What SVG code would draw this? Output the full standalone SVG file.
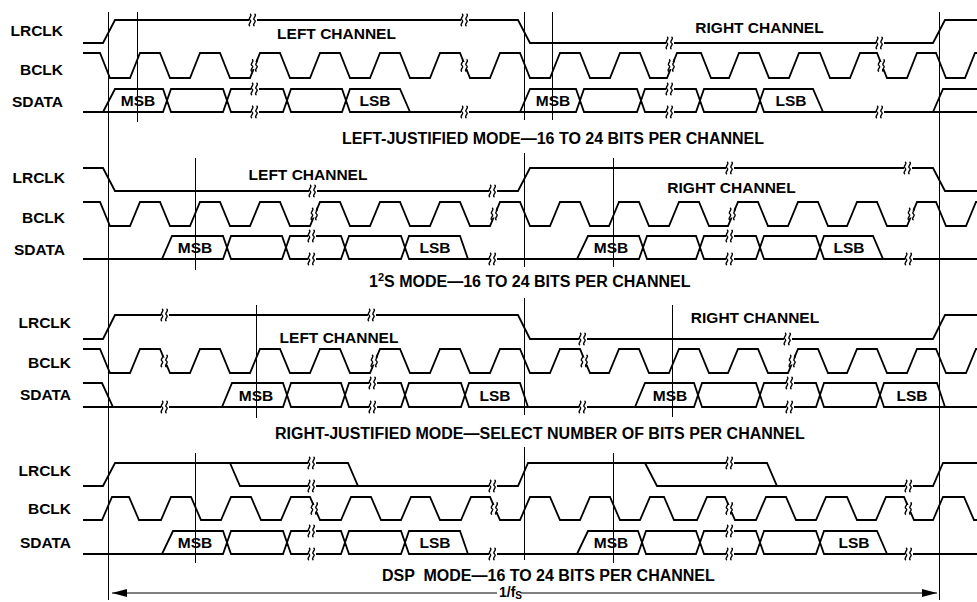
<svg xmlns="http://www.w3.org/2000/svg" xmlns:xlink="http://www.w3.org/1999/xlink" width="977" height="602" viewBox="0 0 977 602">
<style>
.w{fill:none;stroke:#000;stroke-width:1.8;stroke-linejoin:miter}
.v{fill:none;stroke:#000;stroke-width:1}
.t{font-family:"Liberation Sans",Arial,Helvetica,sans-serif;font-weight:bold;font-size:15.5px;fill:#000}
.tt{font-family:"Liberation Sans",Arial,Helvetica,sans-serif;font-weight:bold;font-size:16px;fill:#000}
.m{text-anchor:middle}
.e{text-anchor:end}
</style>
<defs>
<g id="bk"><rect x="-4" y="-3.5" width="8" height="7" fill="#fff"/><path d="M-3,-6 c3,1.5 -2.5,4.5 0,6 c2.5,1.5 -3,4.5 0,6 M1.5,-6 c3,1.5 -2.5,4.5 0,6 c2.5,1.5 -3,4.5 0,6" fill="none" stroke="#000" stroke-width="1.4"/></g>
<marker id="ah" viewBox="0 0 15 8" refX="15" refY="4" markerWidth="15" markerHeight="8" markerUnits="userSpaceOnUse" orient="auto-start-reverse"><path d="M0,0 L15,4 L0,8 z" fill="#000"/></marker>
</defs>
<rect width="977" height="602" fill="#fff"/>

<g id="guides">
<path class="v" d="M108.5,12 V600 M939.5,12 V600 M524.5,12 V120 M524.5,153 V267 M524.5,298 V415 M524.5,447 V560 M137.5,12 V122 M552.5,12 V120 M195.5,158 V270 M613.5,158 V267 M256.5,305 V418 M672.5,305 V417 M195.5,453 V563 M613.5,453 V563"/>
</g>

<g id="panel-left-justified">
<g id="p1-labels">
<text class="t e" x="63" y="35.5">LRCLK</text>
<text class="t e" x="63" y="75">BCLK</text>
<text class="t e" x="63" y="106.5">SDATA</text>
<text class="t m" x="336.5" y="39">LEFT CHANNEL</text>
<text class="t m" x="759.5" y="33">RIGHT CHANNEL</text>
</g>
<path id="p1-lrclk" class="w" d="M83,43 H103 L115,20 H518 L530,43 H933 L945,20 H977"/>
<path id="p1-bclk" class="w" d="M83,53 H100 L110,78 H130 L140,53 H160 L170,78 H190 L200,53 H220 L230,78 H250 L260,53 H280 L290,78 H310 L320,53 H340 L350,78 H370 L380,53 H400 L410,78 H430 L440,53 H460 L470,78 H490 L500,53 H520 L530,78 H550 L560,53 H580 L590,78 H610 L620,53 H640 L650,78 H667 L677,53 H701 L711,78 H729 L739,53 H759 L769,78 H789 L799,53 H820 L830,78 H850 L860,53 H877 L887,78 H907 L917,53 H936 L946,78 H965 L975,53 H977"/>
<path id="p1-sdata" class="w" d="M83,112 H103 M410,112 H520 M823,112 H977 M933,112 L943,89 H977
M103,112 L115,89 H163 L167,100.5 L163,112 Z
M167,100.5 L171,89 H223 L227,100.5 L223,112 H171 Z
M227,100.5 L231,89 H283 L287,100.5 L283,112 H231 Z
M287,100.5 L291,89 H342 L346,100.5 L342,112 H291 Z
M346,100.5 L350,89 H400 L410,112 H350 Z
M520,112 L530,89 H576 L580,100.5 L576,112 Z
M580,100.5 L584,89 H637 L641,100.5 L637,112 H584 Z
M641,100.5 L645,89 H696 L700,100.5 L696,112 H645 Z
M700,100.5 L704,89 H756 L760,100.5 L756,112 H704 Z
M760,100.5 L764,89 H813 L823,112 H764 Z"/>
<g id="p1-breaks">
<use href="#bk" x="253" y="20"/><use href="#bk" x="465" y="20"/><use href="#bk" x="670" y="43"/><use href="#bk" x="880" y="43"/>
<use href="#bk" x="255" y="65.5"/><use href="#bk" x="465" y="65.5"/><use href="#bk" x="672" y="65.5"/><use href="#bk" x="882" y="65.5"/>
<use href="#bk" x="255" y="89"/><use href="#bk" x="255" y="112"/><use href="#bk" x="465" y="112"/><use href="#bk" x="670" y="89"/><use href="#bk" x="670" y="112"/><use href="#bk" x="880" y="112"/>
</g>
<g id="p1-bits">
<text class="t m" x="138" y="106">MSB</text>
<text class="t m" x="375" y="106">LSB</text>
<text class="t m" x="553" y="106">MSB</text>
<text class="t m" x="791" y="106">LSB</text>
</g>
<text class="tt" x="342" y="144">LEFT-JUSTIFIED MODE—16 TO 24 BITS PER CHANNEL</text>
</g>

<g id="panel-i2s">
<g id="p2-labels">
<text class="t e" x="65" y="183">LRCLK</text>
<text class="t e" x="65" y="223">BCLK</text>
<text class="t e" x="65" y="254.5">SDATA</text>
<text class="t m" x="308" y="180">LEFT CHANNEL</text>
<text class="t m" x="731.5" y="193">RIGHT CHANNEL</text>
</g>
<path id="p2-lrclk" class="w" d="M83,168 H103 L115,191 H518 L530,168 H933 L945,191 H977"/>
<path id="p2-bclk" class="w" d="M83,202 H100 L110,226 H130 L140,202 H160 L170,226 H190 L200,202 H220 L230,226 H250 L260,202 H280 L290,226 H310 L320,202 H340 L350,226 H370 L380,202 H400 L410,226 H430 L440,202 H460 L470,226 H490 L500,202 H520 L530,226 H550 L560,202 H580 L590,226 H609 L619,202 H639 L649,226 H669 L679,202 H699 L709,226 H728 L738,202 H758 L768,226 H788 L798,202 H818 L828,226 H847 L857,202 H877 L887,226 H907 L917,202 H936 L946,226 H966 L976,202 H977"/>
<path id="p2-sdata" class="w" d="M83,259 H162 M468,259 H577 M883,259 H977
M162,259 L172,236 H223 L227,247.5 L223,259 Z
M227,247.5 L231,236 H282 L286,247.5 L282,259 H231 Z
M286,247.5 L290,236 H341 L345,247.5 L341,259 H290 Z
M345,247.5 L349,236 H401 L405,247.5 L401,259 H349 Z
M405,247.5 L409,236 H460 L468,259 H409 Z
M577,259 L588,236 H639 L643,247.5 L639,259 Z
M643,247.5 L647,236 H696 L700,247.5 L696,259 H647 Z
M700,247.5 L704,236 H756 L760,247.5 L756,259 H704 Z
M760,247.5 L764,236 H816 L820,247.5 L816,259 H764 Z
M820,247.5 L824,236 H873 L883,259 H824 Z"/>
<g id="p2-breaks">
<use href="#bk" x="313" y="191"/><use href="#bk" x="493" y="191"/><use href="#bk" x="730" y="168"/><use href="#bk" x="908" y="168"/>
<use href="#bk" x="315" y="214"/><use href="#bk" x="495" y="214"/><use href="#bk" x="733" y="214"/><use href="#bk" x="912" y="214"/>
<use href="#bk" x="312" y="236"/><use href="#bk" x="312" y="259"/><use href="#bk" x="493" y="259"/><use href="#bk" x="730" y="236"/><use href="#bk" x="730" y="259"/><use href="#bk" x="909" y="259"/>
</g>
<g id="p2-bits">
<text class="t m" x="195" y="253">MSB</text>
<text class="t m" x="435" y="253">LSB</text>
<text class="t m" x="611" y="253">MSB</text>
<text class="t m" x="849" y="253">LSB</text>
</g>
<text class="tt" x="369" y="287">1<tspan font-size="11" dy="-6">2</tspan><tspan dy="6">S MODE—16 TO 24 BITS PER CHANNEL</tspan></text>
</g>

<g id="panel-right-justified">
<g id="p3-labels">
<text class="t e" x="71" y="327.5">LRCLK</text>
<text class="t e" x="71" y="367.5">BCLK</text>
<text class="t e" x="71" y="399.5">SDATA</text>
<text class="t m" x="339" y="343">LEFT CHANNEL</text>
<text class="t m" x="755" y="323">RIGHT CHANNEL</text>
</g>
<path id="p3-lrclk" class="w" d="M83,339 H103 L115,315 H518 L530,339 H933 L945,315 H977"/>
<path id="p3-bclk" class="w" d="M83,349 H100 L110,373 H130 L140,349 H160 L170,373 H190 L200,349 H220 L230,373 H250 L260,349 H280 L290,373 H310 L320,349 H340 L350,373 H370 L380,349 H400 L410,373 H430 L440,349 H460 L470,373 H490 L500,349 H520 L530,373 H550 L560,349 H580 L590,373 H609 L619,349 H639 L649,373 H669 L679,349 H699 L709,373 H728 L738,349 H758 L768,373 H788 L798,349 H818 L828,373 H847 L857,349 H877 L887,373 H907 L917,349 H936 L946,373 H966 L976,349 H977"/>
<path id="p3-sdata" class="w" d="M83,383 H102 L113,407 M83,407 H222 M528,407 H635 M945,407 H977
M222,407 L232,383 H283 L287,395 L283,407 Z
M287,395 L291,383 H341 L345,395 L341,407 H291 Z
M345,395 L349,383 H401 L405,395 L401,407 H349 Z
M405,395 L409,383 H461 L465,395 L461,407 H409 Z
M465,395 L469,383 H520 L528,407 H469 Z
M635,407 L645,383 H694 L698,395 L694,407 Z
M698,395 L702,383 H756 L760,395 L756,407 H702 Z
M760,395 L764,383 H816 L820,395 L816,407 H764 Z
M820,395 L824,383 H876 L880,395 L876,407 H824 Z
M880,395 L884,383 H937 L945,407 H884 Z"/>
<g id="p3-breaks">
<use href="#bk" x="165" y="315"/><use href="#bk" x="372" y="315"/><use href="#bk" x="583" y="339"/><use href="#bk" x="788" y="339"/>
<use href="#bk" x="165" y="361"/><use href="#bk" x="375" y="361"/><use href="#bk" x="585" y="361"/><use href="#bk" x="793" y="361"/>
<use href="#bk" x="165" y="407"/><use href="#bk" x="373" y="383"/><use href="#bk" x="373" y="407"/><use href="#bk" x="583" y="407"/><use href="#bk" x="790" y="383"/><use href="#bk" x="790" y="407"/>
</g>
<g id="p3-bits">
<text class="t m" x="256" y="401">MSB</text>
<text class="t m" x="495" y="401">LSB</text>
<text class="t m" x="670" y="401">MSB</text>
<text class="t m" x="912" y="401">LSB</text>
</g>
<text class="tt" x="275" y="439">RIGHT-JUSTIFIED MODE—SELECT NUMBER OF BITS PER CHANNEL</text>
</g>

<g id="panel-dsp">
<g id="p4-labels">
<text class="t e" x="71" y="475.5">LRCLK</text>
<text class="t e" x="71" y="514">BCLK</text>
<text class="t e" x="71" y="548">SDATA</text>
</g>
<path id="p4-lrclk" class="w" d="M83,486 H103 L115,463 H348 L358,486 H518 L528,463 H767 L777,486 H933 L943,463 H977 M230,463 L240,486 H358 M645,463 L657,486 H777"/>
<path id="p4-bclk" class="w" d="M83,520 H102 L112,497 H129 L139,520 H161 L171,497 H191 L201,520 H221 L231,497 H251 L261,520 H281 L291,497 H310 L320,520 H341 L351,497 H371 L381,520 H401 L411,497 H430 L440,520 H461 L471,497 H490 L500,520 H520 L530,497 H550 L560,520 H580 L590,497 H610 L620,520 H640 L650,497 H664 L674,520 H697 L707,497 H725 L735,520 H756 L766,497 H786 L796,520 H816 L826,497 H847 L857,520 H876 L886,497 H904 L914,520 H933 L943,497 H964 L974,520 H977"/>
<path id="p4-sdata" class="w" d="M83,554 H162 M468,554 H577 M887,554 H977
M162,554 L173,531 H223 L227,542.5 L223,554 Z
M227,542.5 L231,531 H283 L287,542.5 L283,554 H231 Z
M287,542.5 L291,531 H341 L345,542.5 L341,554 H291 Z
M345,542.5 L349,531 H401 L405,542.5 L401,554 H349 Z
M405,542.5 L409,531 H460 L468,554 H409 Z
M577,554 L588,531 H638 L642,542.5 L638,554 Z
M642,542.5 L646,531 H696 L700,542.5 L696,554 H646 Z
M700,542.5 L704,531 H756 L760,542.5 L756,554 H704 Z
M760,542.5 L764,531 H816 L820,542.5 L816,554 H764 Z
M820,542.5 L824,531 H877 L887,554 H824 Z"/>
<g id="p4-breaks">
<use href="#bk" x="312" y="463"/><use href="#bk" x="312" y="486"/><use href="#bk" x="493" y="486"/><use href="#bk" x="730" y="463"/><use href="#bk" x="909" y="486"/>
<use href="#bk" x="315" y="508.5"/><use href="#bk" x="495" y="508.5"/><use href="#bk" x="730" y="508.5"/><use href="#bk" x="909" y="508.5"/>
<use href="#bk" x="312" y="531"/><use href="#bk" x="312" y="554"/><use href="#bk" x="493" y="554"/><use href="#bk" x="730" y="531"/><use href="#bk" x="730" y="554"/><use href="#bk" x="909" y="554"/>
</g>
<g id="p4-bits">
<text class="t m" x="195" y="548">MSB</text>
<text class="t m" x="435" y="548">LSB</text>
<text class="t m" x="611" y="548">MSB</text>
<text class="t m" x="854" y="548">LSB</text>
</g>
<text class="tt" x="382" y="581" xml:space="preserve">DSP  MODE—16 TO 24 BITS PER CHANNEL</text>
</g>

<g id="period">
<path class="v" d="M497,593 H112" marker-end="url(#ah)"/>
<path class="v" d="M521,593 H937" marker-end="url(#ah)"/>
<text class="t" x="499" y="597" style="font-size:14px">1/f<tspan font-size="10" dy="2">S</tspan></text>
</g>
</svg>
